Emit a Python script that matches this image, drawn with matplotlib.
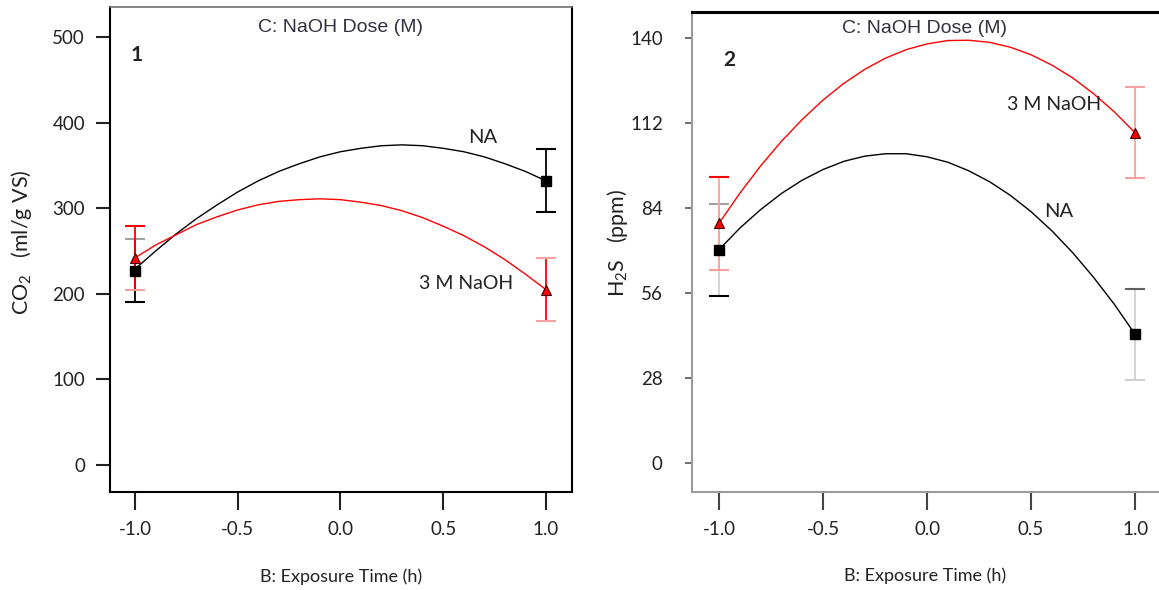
import matplotlib
matplotlib.use("Agg")
import matplotlib.pyplot as plt
import numpy as np

plt.rcParams['font.family'] = ['Lato', 'DejaVu Sans']
plt.rcParams['mathtext.fontset'] = 'custom'
plt.rcParams['mathtext.rm'] = 'Lato'
plt.rcParams['mathtext.it'] = 'Lato:italic'

# ---------------- data ----------------
x_levels = [-1.0, 1.0]
x_ticks = [-1.0, -0.5, 0.0, 0.5, 1.0]
x_tick_labels = ["-1.0", "-0.5", "0.0", "0.5", "1.0"]

# model curves (every 0.1 in B)
curve_x = [-1.0, -0.9, -0.8, -0.7, -0.6, -0.5, -0.4, -0.3, -0.2, -0.1, 0.0,
           0.1, 0.2, 0.3, 0.4, 0.5, 0.6, 0.7, 0.8, 0.9, 1.0]

# Panel 1: CO2 (ml/g VS)
co2_na_pts = [227, 332]
co2_na_err = [37, 37]
co2_naoh_pts = [242, 205]
co2_naoh_err = [37, 37]
co2_na_curve = [229, 250, 270, 288, 304, 319, 332, 343, 352, 360, 366,
                370, 373, 374, 373, 370, 366, 360, 352, 343, 332]
co2_naoh_curve = [242, 257, 269, 281, 290, 298, 304, 308, 310, 311, 310,
                  307, 303, 297, 289, 279, 268, 255, 240, 223, 205]
co2_yticks = [0, 100, 200, 300, 400, 500]

# Panel 2: H2S (ppm)
h2s_na_pts = [70.3, 42.4]
h2s_na_err = [15.2, 15.0]
h2s_naoh_pts = [79.0, 108.8]
h2s_naoh_err = [15.3, 15.0]
h2s_na_curve = [70.3, 77.4, 83.5, 88.8, 93.2, 96.7, 99.4, 101.1, 101.9, 101.9, 100.9,
                99.1, 96.3, 92.7, 88.2, 82.8, 76.5, 69.3, 61.2, 52.3, 42.4]
h2s_naoh_curve = [79.0, 88.9, 97.9, 106.0, 113.2, 119.6, 125.1, 129.7, 133.4, 136.2, 138.1,
                  139.2, 139.3, 138.6, 137.0, 134.5, 131.1, 126.9, 121.7, 115.7, 108.8]
h2s_yticks = [0, 28, 56, 84, 112, 140]

series_labels = ["NA", "3 M NaOH"]
panel_ids = ["1", "2"]

W, H = 1159, 590
fig = plt.figure(figsize=(W / 100, H / 100), dpi=100)

ax1 = fig.add_axes([110 / W, 1 - 492 / H, (572 - 110) / W, (492 - 7.3) / H])
ax2 = fig.add_axes([692 / W, 1 - 492 / H, (1158 - 692) / W, (492 - 11.7) / H])

RED = "#ff0000"
LRED = "#f6a0a0"
GREY = "#a0a0a0"
LGREY = "#d0d0d0"
TXT = "#222222"
TICKFS = 13.5


def bar(ax, x, y, e, vcol, lowcol, upcol, cap_px=10):
    ax.plot([x, x], [y - e, y + e], color=vcol, lw=1.3, zorder=2)
    ax.plot([x], [y - e], marker='_', ms=2 * cap_px * 0.72, mew=1.5, color=lowcol, zorder=2)
    ax.plot([x], [y + e], marker='_', ms=2 * cap_px * 0.72, mew=1.5, color=upcol, zorder=2)


# ---------- Panel 1 ----------
ax = ax1
ax.plot(curve_x, co2_na_curve, color='black', lw=1.0, zorder=3)
ax.plot(curve_x, co2_naoh_curve, color=RED, lw=1.0, zorder=3)
bar(ax, x_levels[0], co2_na_pts[0], co2_na_err[0], 'black', 'black', GREY)
bar(ax, x_levels[1], co2_na_pts[1], co2_na_err[1], 'black', 'black', 'black')
bar(ax, x_levels[0], co2_naoh_pts[0], co2_naoh_err[0], RED, LRED, RED)
bar(ax, x_levels[1], co2_naoh_pts[1], co2_naoh_err[1], RED, LRED, LRED)
ax.plot(x_levels, co2_na_pts, ls='none', marker='s', ms=7.5, color='black', zorder=4)
ax.plot(x_levels, co2_naoh_pts, ls='none', marker='^', ms=7, mfc=RED, mec='#400000',
        mew=0.8, zorder=5)
ax.set_xlim(-1.122, 1.127)
ax.set_ylim(-31.5, 534.7)
ax.set_yticks(co2_yticks)
ax.set_xticks(x_ticks)
ax.set_xticklabels(x_tick_labels)
for s in ax.spines.values():
    s.set_linewidth(1.5)
ax.spines['top'].set_color('#707070')
ax.spines['top'].set_linewidth(1.2)
ax.tick_params(axis='y', length=10, width=1.5, pad=8, labelsize=TICKFS, colors=TXT)
ax.tick_params(axis='x', length=13, width=1.5, pad=8, labelsize=TICKFS, colors=TXT)
ax.set_ylabel("CO$_2$   (ml/g VS)", fontsize=15.5, color=TXT)
ax.yaxis.set_label_coords(-0.165, 0.515)
ax.set_xlabel("B: Exposure Time (h)", fontsize=13, color=TXT)
ax.xaxis.set_label_coords(0.5, -0.158)
ax.text(0.5, 0.959, "C: NaOH Dose (M)", transform=ax.transAxes, ha='center', va='center',
        fontsize=14, color='#303040', family='Liberation Sans')
ax.text(0.058, 0.902, panel_ids[0], transform=ax.transAxes, ha='center', va='center',
        fontsize=15, fontweight='bold', color=TXT)
ax.text(0.693, 383, series_labels[0], ha='center', va='center', fontsize=14.5, color=TXT)
ax.text(0.61, 212, series_labels[1], ha='center', va='center', fontsize=14, color=TXT)

# ---------- Panel 2 ----------
ax = ax2
ax.plot(curve_x, h2s_na_curve, color='black', lw=1.0, zorder=3)
ax.plot(curve_x, h2s_naoh_curve, color=RED, lw=1.0, zorder=3)
bar(ax, x_levels[0], h2s_na_pts[0], h2s_na_err[0], LGREY, 'black', GREY)
bar(ax, x_levels[1], h2s_na_pts[1], h2s_na_err[1], LGREY, LGREY, '#606060')
bar(ax, x_levels[0], h2s_naoh_pts[0], h2s_naoh_err[0], LRED, LRED, RED)
bar(ax, x_levels[1], h2s_naoh_pts[1], h2s_naoh_err[1], LRED, LRED, LRED)
ax.plot(x_levels, h2s_na_pts, ls='none', marker='s', ms=7.5, color='black', zorder=4)
ax.plot(x_levels, h2s_naoh_pts, ls='none', marker='^', ms=7, mfc=RED, mec='#400000',
        mew=0.8, zorder=5)
ax.set_xlim(-1.13, 1.11)
ax.set_ylim(-9.55, 148.7)
ax.set_yticks(h2s_yticks)
ax.set_xticks(x_ticks)
ax.set_xticklabels(x_tick_labels)
ax.spines['right'].set_visible(False)
ax.spines['top'].set_linewidth(2.2)
ax.spines['top'].set_color('black')
for k in ('left', 'bottom'):
    ax.spines[k].set_color('#9a9a9a')
    ax.spines[k].set_linewidth(1.5)
ax.tick_params(axis='y', length=5, width=1.2, pad=16, labelsize=TICKFS, colors='#555555',
               labelcolor=TXT)
ax.tick_params(axis='x', length=13, width=1.5, pad=8, labelsize=TICKFS, colors='#444444',
               labelcolor=TXT)
xt = ax.xaxis.get_major_ticks()
xt[0].tick1line.set_color(LGREY)
xt[-1].tick1line.set_color(LGREY)
ax.set_ylabel("H$_2$S   (ppm)", fontsize=15.5, color=TXT)
ax.yaxis.set_label_coords(-0.133, 0.518)
ax.set_xlabel("B: Exposure Time (h)", fontsize=13, color=TXT)
ax.xaxis.set_label_coords(0.5, -0.158)
ax.text(0.5, 0.966, "C: NaOH Dose (M)", transform=ax.transAxes, ha='center', va='center',
        fontsize=14, color='#303040', family='Liberation Sans')
ax.text(0.079, 0.9, panel_ids[1], transform=ax.transAxes, ha='center', va='center',
        fontsize=15, fontweight='bold', color=TXT)
ax.text(0.61, 118, series_labels[1], ha='center', va='center', fontsize=14, color=TXT)
ax.text(0.635, 83, series_labels[0], ha='center', va='center', fontsize=14.5, color=TXT)

fig.savefig("out.png", dpi=100)
